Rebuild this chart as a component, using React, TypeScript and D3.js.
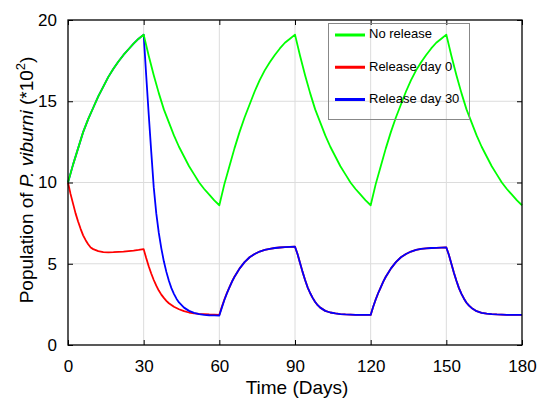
import React, { Component } from "react";
import * as d3 from "d3";

// Days for the "No release" series, every 2 days
const greenDays = d3.range(0, 181, 2);
const noRelease = [
	10, 11.1, 12.1, 13.1, 13.9, 14.6, 15.3, 15.9, 16.5, 17.0, 17.45, 17.85, 18.2, 18.55, 18.85, 19.1,
	17.8, 16.6, 15.5, 14.5, 13.7, 12.9, 12.2, 11.6, 11.0, 10.5, 10.0, 9.6, 9.25, 8.9, 8.6,
	9.9, 11.0, 12.1, 13.1, 14.0, 14.8, 15.6, 16.3, 16.9, 17.4, 17.85, 18.25, 18.6, 18.85, 19.1,
	17.8, 16.6, 15.5, 14.5, 13.7, 12.9, 12.2, 11.6, 11.0, 10.5, 10.0, 9.6, 9.25, 8.9, 8.6,
	9.9, 11.0, 12.1, 13.1, 14.0, 14.8, 15.6, 16.3, 16.9, 17.4, 17.85, 18.25, 18.6, 18.85, 19.1,
	17.8, 16.6, 15.5, 14.5, 13.7, 12.9, 12.2, 11.6, 11.0, 10.5, 10.0, 9.6, 9.25, 8.9, 8.6,
];

// Release on day 0
const releaseDay0 = [
	[0, 10], [1, 9.3], [2, 8.7], [3, 8.1], [4, 7.6], [5, 7.15], [6, 6.75], [7, 6.45], [8, 6.2], [9, 6.0],
	[10, 5.9], [12, 5.78], [14, 5.72], [16, 5.7], [18, 5.71], [20, 5.73], [22, 5.75], [24, 5.78], [26, 5.81], [28, 5.85], [30, 5.9],
	[31, 5.35], [32, 4.85], [33, 4.4], [34, 4.0], [35, 3.65], [36, 3.35], [37, 3.1], [38, 2.9], [39, 2.72], [40, 2.57],
	[42, 2.35], [44, 2.2], [46, 2.08], [48, 2.0], [50, 1.95], [52, 1.92], [54, 1.9], [56, 1.88], [58, 1.87], [60, 1.86],
	[61, 2.35], [62, 2.8], [63, 3.2], [64, 3.55], [65, 3.9], [66, 4.2], [67, 4.45], [68, 4.7], [69, 4.9], [70, 5.1],
	[72, 5.4], [74, 5.6], [76, 5.75], [78, 5.85], [80, 5.92], [82, 5.97], [84, 6.0], [86, 6.02], [88, 6.04], [90, 6.05],
	[91, 5.6], [92, 5.05], [93, 4.5], [94, 4.0], [95, 3.55], [96, 3.2], [97, 2.9], [98, 2.65], [99, 2.45], [100, 2.3],
	[102, 2.1], [104, 2.0], [106, 1.94], [108, 1.9], [110, 1.88], [112, 1.87], [114, 1.86], [116, 1.85], [118, 1.85], [120, 1.85],
	[121, 2.35], [122, 2.8], [123, 3.2], [124, 3.55], [125, 3.9], [126, 4.2], [127, 4.45], [128, 4.7], [129, 4.9], [130, 5.1],
	[132, 5.4], [134, 5.6], [136, 5.75], [138, 5.85], [140, 5.91], [142, 5.95], [144, 5.97], [146, 5.98], [148, 5.99], [150, 6.0],
	[151, 5.55], [152, 5.0], [153, 4.45], [154, 3.95], [155, 3.5], [156, 3.15], [157, 2.85], [158, 2.6], [159, 2.42], [160, 2.28],
	[162, 2.08], [164, 1.98], [166, 1.93], [168, 1.9], [170, 1.88], [172, 1.87], [174, 1.86], [176, 1.85], [178, 1.85], [180, 1.85],
];

// Release on day 30
const releaseDay30 = [
	[0, 10], [2, 11.1], [4, 12.1], [6, 13.1], [8, 13.9], [10, 14.6], [12, 15.3], [14, 15.9], [16, 16.5], [18, 17.0],
	[20, 17.45], [22, 17.85], [24, 18.2], [26, 18.55], [28, 18.85], [30, 19.1],
	[31, 16.6], [32, 14.2], [33, 11.9], [34, 9.7], [35, 8.1], [36, 6.9], [37, 5.95], [38, 5.15], [39, 4.5], [40, 3.95],
	[41, 3.5], [42, 3.15], [43, 2.85], [44, 2.62], [46, 2.3], [48, 2.1], [50, 1.98], [52, 1.9], [54, 1.86], [56, 1.83], [58, 1.82], [60, 1.81],
	[61, 2.3], [62, 2.77], [63, 3.18], [64, 3.54], [65, 3.89], [66, 4.19], [67, 4.45], [68, 4.7], [69, 4.9], [70, 5.1],
	[72, 5.4], [74, 5.6], [76, 5.75], [78, 5.85], [80, 5.92], [82, 5.97], [84, 6.0], [86, 6.02], [88, 6.04], [90, 6.05],
	[91, 5.6], [92, 5.05], [93, 4.5], [94, 4.0], [95, 3.55], [96, 3.2], [97, 2.9], [98, 2.65], [99, 2.45], [100, 2.3],
	[102, 2.1], [104, 2.0], [106, 1.94], [108, 1.9], [110, 1.88], [112, 1.87], [114, 1.86], [116, 1.85], [118, 1.85], [120, 1.85],
	[121, 2.35], [122, 2.8], [123, 3.2], [124, 3.55], [125, 3.9], [126, 4.2], [127, 4.45], [128, 4.7], [129, 4.9], [130, 5.1],
	[132, 5.4], [134, 5.6], [136, 5.75], [138, 5.85], [140, 5.91], [142, 5.95], [144, 5.97], [146, 5.98], [148, 5.99], [150, 6.0],
	[151, 5.55], [152, 5.0], [153, 4.45], [154, 3.95], [155, 3.5], [156, 3.15], [157, 2.85], [158, 2.6], [159, 2.42], [160, 2.28],
	[162, 2.08], [164, 1.98], [166, 1.93], [168, 1.9], [170, 1.88], [172, 1.87], [174, 1.86], [176, 1.85], [178, 1.85], [180, 1.85],
];

const xTicks = [0, 30, 60, 90, 120, 150, 180];
const yTicks = [0, 5, 10, 15, 20];
const legendLabels = ["No release", "Release day 0", "Release day 30"];
const colors = ["#00ff00", "#ff0000", "#0000ff"];

const FONT = "'Liberation Sans', Arial, Helvetica, sans-serif";

class Chart extends Component {
	constructor(props) {
		super(props);
		this.myRef = React.createRef();
	}

	componentDidMount() {
		this.renderData();
	}

	renderData() {
		const w = 539;
		const h = 400;
		const left = 68;
		const right = 522;
		const top = 20;
		const bottom = 345;

		const xScale = d3.scaleLinear().domain([0, 180]).range([left, right]);
		const yScale = d3.scaleLinear().domain([0, 20]).range([bottom, top]);

		const svg = d3
			.select(this.myRef.current)
			.html("")
			.append("svg")
			.attr("width", w)
			.attr("height", h)
			.style("position", "absolute")
			.style("left", 0)
			.style("top", 0)
			.style("background", "#fff")
			.style("font-family", FONT);

		// Grid
		svg
			.append("g")
			.selectAll("line")
			.data(xTicks.slice(1, -1))
			.join("line")
			.attr("x1", d => xScale(d))
			.attr("x2", d => xScale(d))
			.attr("y1", top)
			.attr("y2", bottom)
			.attr("stroke", "#dcdcdc")
			.attr("stroke-width", 1);

		svg
			.append("g")
			.selectAll("line")
			.data(yTicks.slice(1, -1))
			.join("line")
			.attr("x1", left)
			.attr("x2", right)
			.attr("y1", d => yScale(d))
			.attr("y2", d => yScale(d))
			.attr("stroke", "#dcdcdc")
			.attr("stroke-width", 1);

		// Lines
		const line = d3
			.line()
			.x(d => xScale(d[0]))
			.y(d => yScale(d[1]));

		const series = [
			greenDays.map((d, i) => [d, noRelease[i]]),
			releaseDay0,
			releaseDay30,
		];

		// draw order: red, blue, green on top
		[1, 2, 0].forEach(i => {
			svg
				.append("path")
				.datum(series[i])
				.attr("fill", "none")
				.attr("stroke", colors[i])
				.attr("stroke-width", 1.8)
				.attr("stroke-linejoin", "round")
				.attr("d", line);
		});

		// Axes (ticks inward on all four sides)
		const tick = 5;
		const xAxisBottom = d3.axisBottom(xScale).tickValues(xTicks).tickSize(-tick).tickPadding(tick + 10);
		const gx = svg
			.append("g")
			.attr("transform", `translate(0, ${bottom})`)
			.call(xAxisBottom);
		gx.select(".domain").remove();
		gx.selectAll("text").style("font-size", "17px").style("font-family", FONT).attr("fill", "#000");

		const gxTop = svg
			.append("g")
			.attr("transform", `translate(0, ${top})`)
			.call(d3.axisTop(xScale).tickValues(xTicks).tickSize(-tick).tickFormat(() => ""));
		gxTop.select(".domain").remove();

		const gy = svg
			.append("g")
			.attr("transform", `translate(${left}, 0)`)
			.call(d3.axisLeft(yScale).tickValues(yTicks).tickSize(-tick).tickPadding(tick + 6));
		gy.select(".domain").remove();
		gy.selectAll("text").style("font-size", "17px").style("font-family", FONT).attr("fill", "#000");

		const gyRight = svg
			.append("g")
			.attr("transform", `translate(${right}, 0)`)
			.call(d3.axisRight(yScale).tickValues(yTicks).tickSize(-tick).tickFormat(() => ""));
		gyRight.select(".domain").remove();

		svg.selectAll(".tick line").attr("stroke", "#000").attr("stroke-width", 1);

		// Frame
		svg
			.append("rect")
			.attr("x", left)
			.attr("y", top)
			.attr("width", right - left)
			.attr("height", bottom - top)
			.attr("fill", "none")
			.attr("stroke", "#000")
			.attr("stroke-width", 1.3);

		// x-axis label
		svg
			.append("text")
			.attr("x", (left + right) / 2 + 2)
			.attr("y", 394)
			.attr("text-anchor", "middle")
			.style("font-size", "19px")
			.text("Time (Days)");

		// y-axis label
		const yLabel = svg
			.append("text")
			.attr("transform", "rotate(-90)")
			.attr("x", -180)
			.attr("y", 33)
			.attr("text-anchor", "middle")
			.style("font-size", "19px");
		yLabel.append("tspan").text("Population of ");
		yLabel.append("tspan").style("font-style", "italic").text("P. viburni");
		yLabel.append("tspan").text(" (*10");
		yLabel.append("tspan").attr("dy", -8).style("font-size", "13px").text("2");
		yLabel.append("tspan").attr("dy", 8).text(")");

		// Legend
		const legend = svg.append("g");
		legend
			.append("rect")
			.attr("x", 328.5)
			.attr("y", 23.5)
			.attr("width", 141)
			.attr("height", 96)
			.attr("fill", "none")
			.attr("stroke", "#888")
			.attr("stroke-width", 1);

		const legendY = d3.scalePoint().domain(legendLabels).range([35, 99.5]);
		legendLabels.forEach((label, i) => {
			legend
				.append("line")
				.attr("x1", 335)
				.attr("x2", 365)
				.attr("y1", legendY(label))
				.attr("y2", legendY(label))
				.attr("stroke", colors[i])
				.attr("stroke-width", 3);
			legend
				.append("text")
				.attr("x", 369)
				.attr("y", legendY(label))
				.attr("dominant-baseline", "middle")
				.style("font-size", "13px")
				.text(label);
		});
	}

	render() {
		return <div ref={this.myRef}></div>;
	}
}

export default function App() {
	return <Chart />;
}
